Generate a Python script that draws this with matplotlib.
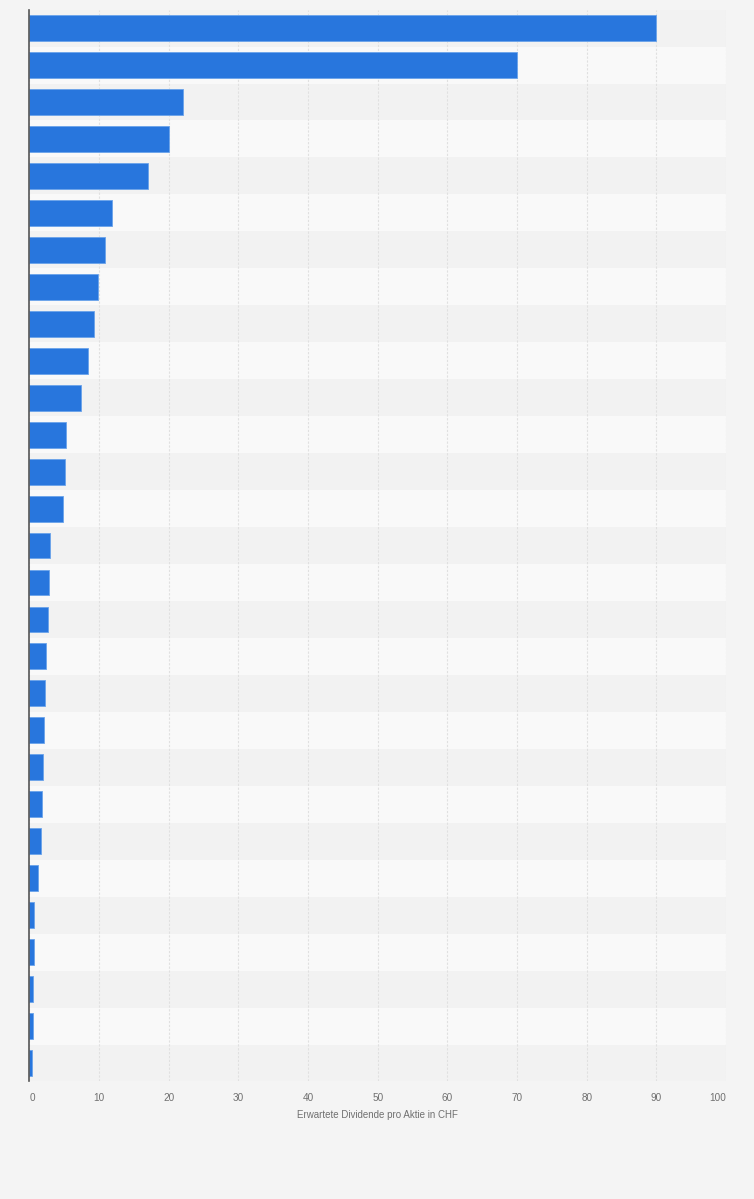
import matplotlib
matplotlib.use("Agg")
import matplotlib.pyplot as plt

# Expected dividend per share (CHF), sorted descending; company names not shown
ranks = list(range(1, 30))
dividends = [90, 70, 22, 20, 17, 11.9, 10.9, 9.9, 9.3, 8.45, 7.45, 5.3, 5.1, 4.85,
             3.0, 2.8, 2.65, 2.35, 2.2, 2.1, 1.95, 1.8, 1.65, 1.2, 0.6, 0.6, 0.45,
             0.45, 0.35]
x_ticks = [0, 10, 20, 30, 40, 50, 60, 70, 80, 90, 100]
x_label = "Erwartete Dividende pro Aktie in CHF"

plt.rcParams['font.family'] = ['Liberation Sans', 'DejaVu Sans']

fig = plt.figure(figsize=(7.54, 11.99), dpi=100, facecolor='#f4f4f4')
ax = fig.add_axes([0.0391, 0.098, 0.9239, 0.894])
ax.set_facecolor('#f4f4f4')

n = len(ranks)
ypos = list(range(n))

# alternating row stripes
for i in ypos:
    shade = '#f2f2f2' if i % 2 == 0 else '#f9f9f9'
    ax.axhspan(i - 0.5, i + 0.5, color=shade, zorder=0, lw=0)

ax.barh(ypos, dividends, height=0.7, color='#2876dd', edgecolor='#6aa3ea',
        linewidth=0.6, zorder=3)

ax.set_xlim(0, 100)
ax.set_ylim(n - 0.5, -0.5)
ax.set_yticks([])

ax.set_xticks(x_ticks)
ax.set_xticklabels([str(t) for t in x_ticks], fontsize=7.2, color='#707070')
labels = ax.get_xticklabels()
labels[0].set_horizontalalignment('left')
labels[-1].set_horizontalalignment('right')
ax.tick_params(axis='x', length=0, pad=8.5)
ax.set_xlabel(x_label, fontsize=7, color='#707070', labelpad=5)

ax.grid(axis='x', color='#e0e0e0', linestyle=(0, (2, 1.5)), linewidth=0.8, zorder=1)
ax.set_axisbelow(True)

for side in ['top', 'right', 'bottom']:
    ax.spines[side].set_visible(False)
ax.spines['left'].set_color('#555555')
ax.spines['left'].set_linewidth(1.2)
ax.spines['left'].set_zorder(5)

fig.savefig('out.png', dpi=100, facecolor=fig.get_facecolor())
